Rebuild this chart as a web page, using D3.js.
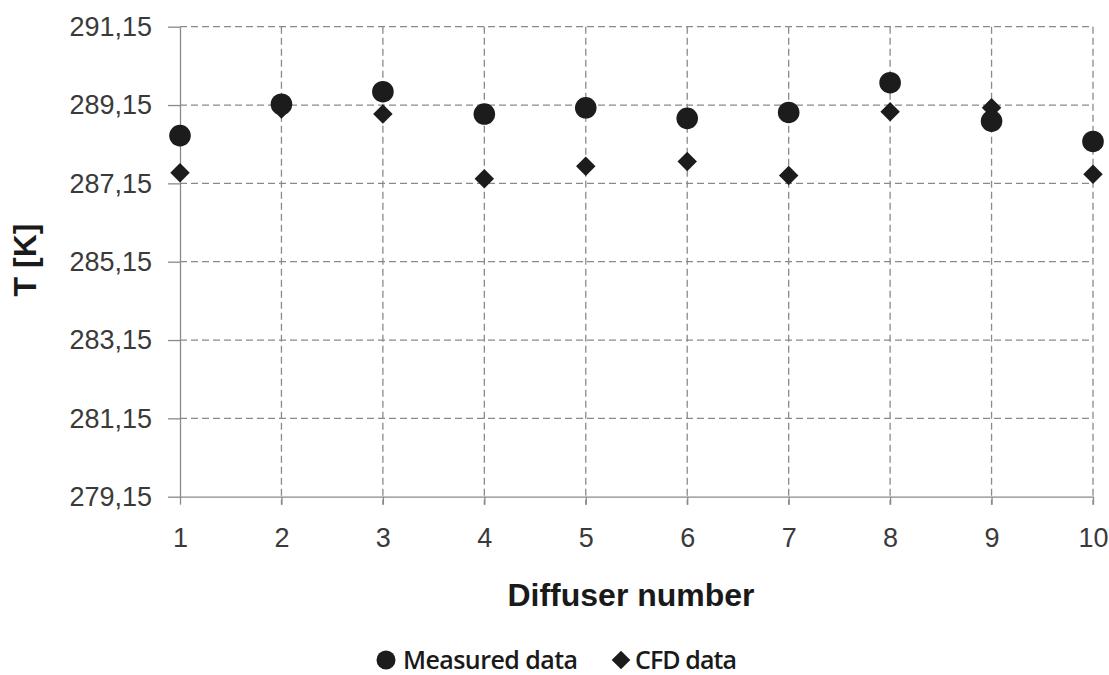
<!DOCTYPE html>
<html>
<head>
<meta charset="utf-8">
<script src="https://cdn.jsdelivr.net/npm/d3@7"></script>
<style>
  html, body { margin: 0; padding: 0; background: #fff; }
  svg { display: block; }
</style>
</head>
<body>
<svg id="chart" width="1109" height="675"></svg>
<script>
// Diffuser numbers along the x axis
const diffusers = [1, 2, 3, 4, 5, 6, 7, 8, 9, 10];
// Temperatures [K] per diffuser
const measured = [288.37, 289.17, 289.49, 288.92, 289.08, 288.81, 288.96, 289.72, 288.74, 288.22];
const cfd      = [287.42, 289.05, 288.92, 287.27, 287.59, 287.71, 287.35, 288.98, 289.08, 287.38];
// Y axis ticks and their labels
const yTicks = [279.15, 281.15, 283.15, 285.15, 287.15, 289.15, 291.15];
const yTickLabels = ["279,15", "281,15", "283,15", "285,15", "287,15", "289,15", "291,15"];
const seriesNames = ["Measured data", "CFD data"];

const svg = d3.select("#chart");
const plotLeft = 180, plotRight = 1093, plotTop = 26.7, plotBottom = 496.7;

const x = d3.scaleLinear().domain([1, 10]).range([plotLeft, plotRight]);
const y = d3.scaleLinear().domain([279.15, 291.15]).range([plotBottom, plotTop]);

const gridColor = "#8a8a8a";
const markColor = "#1c1c1c";

// Dashed horizontal gridlines
svg.append("g").selectAll("line")
  .data(yTicks.slice(1))
  .join("line")
  .attr("x1", plotLeft).attr("x2", plotRight)
  .attr("y1", d => y(d)).attr("y2", d => y(d))
  .attr("stroke", gridColor).attr("stroke-width", 1.3)
  .attr("stroke-dasharray", "7,4");

// Dashed vertical gridlines (extend below the axis as tick marks)
svg.append("g").selectAll("line")
  .data(diffusers.slice(1))
  .join("line")
  .attr("x1", d => x(d)).attr("x2", d => x(d))
  .attr("y1", plotTop).attr("y2", plotBottom + 8)
  .attr("stroke", gridColor).attr("stroke-width", 1.3)
  .attr("stroke-dasharray", "7,4");

// Y axis
const yAxis = d3.axisLeft(y)
  .tickValues(yTicks)
  .tickFormat((d, i) => yTickLabels[i])
  .tickSize(12)
  .tickSizeOuter(0)
  .tickPadding(16);
const gy = svg.append("g").attr("transform", `translate(${plotLeft},0)`).call(yAxis);
gy.select(".domain").attr("stroke", gridColor).attr("stroke-width", 1.3);
gy.selectAll(".tick line").attr("stroke", gridColor).attr("stroke-width", 1.3);
gy.selectAll(".tick text")
  .attr("font-family", "'Liberation Sans', Arial, sans-serif")
  .attr("font-size", 27)
  .attr("fill", "#3a3a3a");

// X axis
const xAxis = d3.axisBottom(x)
  .tickValues(diffusers)
  .tickFormat(d3.format("d"))
  .tickSize(8)
  .tickSizeOuter(0)
  .tickPadding(23);
const gx = svg.append("g").attr("transform", `translate(0,${plotBottom})`).call(xAxis);
gx.select(".domain").attr("stroke", gridColor).attr("stroke-width", 1.3);
gx.selectAll(".tick line").attr("stroke", gridColor).attr("stroke-width", 1.3);
gx.selectAll(".tick text")
  .attr("font-family", "'Liberation Sans', Arial, sans-serif")
  .attr("font-size", 27)
  .attr("fill", "#3a3a3a");

// Axis titles
svg.append("text")
  .attr("x", 631).attr("y", 606)
  .attr("text-anchor", "middle")
  .attr("font-family", "'Liberation Sans', Arial, sans-serif")
  .attr("font-weight", "bold")
  .attr("font-size", 32)
  .attr("fill", "#1a1a1a")
  .text("Diffuser number");

svg.append("text")
  .attr("transform", "translate(36,260) rotate(-90)")
  .attr("text-anchor", "middle")
  .attr("font-family", "'Liberation Sans', Arial, sans-serif")
  .attr("font-weight", "bold")
  .attr("font-size", 32)
  .attr("fill", "#1a1a1a")
  .text("T [K]");

// Markers
const circleR = 10.8;
const diamond = d3.symbol().type(d3.symbolDiamond2).size(2 * 11 * 11);

svg.append("g").selectAll("path")
  .data(diffusers.map((d, i) => ({ d, v: cfd[i] })))
  .join("path")
  .attr("d", diamond)
  .attr("transform", p => `translate(${x(p.d)},${y(p.v)})`)
  .attr("fill", markColor);

svg.append("g").selectAll("circle")
  .data(diffusers.map((d, i) => ({ d, v: measured[i] })))
  .join("circle")
  .attr("cx", p => x(p.d))
  .attr("cy", p => y(p.v))
  .attr("r", circleR)
  .attr("fill", markColor);

// Legend
const legend = svg.append("g");
legend.append("circle").attr("cx", 386).attr("cy", 660).attr("r", 9.5).attr("fill", markColor);
legend.append("text")
  .attr("x", 403).attr("y", 669)
  .attr("font-family", "'Open Sans', sans-serif")
  .attr("font-size", 25)
  .attr("font-weight", 600)
  .attr("fill", "#1a1a1a")
  .attr("textLength", 175)
  .text(seriesNames[0]);
legend.append("path")
  .attr("d", d3.symbol().type(d3.symbolDiamond2).size(2 * 10.5 * 10.5))
  .attr("transform", "translate(621,660)")
  .attr("fill", markColor);
legend.append("text")
  .attr("x", 635).attr("y", 669)
  .attr("font-family", "'Open Sans', sans-serif")
  .attr("font-size", 25)
  .attr("font-weight", 600)
  .attr("fill", "#1a1a1a")
  .attr("textLength", 102)
  .text(seriesNames[1]);
</script>
</body>
</html>
